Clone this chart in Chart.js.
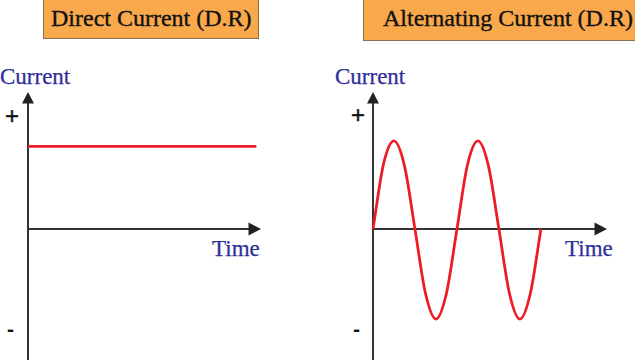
<!DOCTYPE html>
<html>
<head>
<meta charset="utf-8">
<script src="https://cdn.jsdelivr.net/npm/chart.js@4"></script>
<style>
  html, body { margin:0; padding:0; background:#ffffff; }
  #wrap { position:relative; width:635px; height:360px; overflow:hidden; background:#fff; }
  canvas { position:absolute; top:0; }
  .t { position:absolute; white-space:nowrap; line-height:1; font-family:"Liberation Serif", serif; }
  .box { position:absolute; background:#f9a94b; border:1px solid #86704f; box-sizing:border-box; }
  .title { font-size:24px; color:#111; -webkit-text-stroke:0.35px #111; }
  .lab { font-size:23px; color:#2e2e9a; -webkit-text-stroke:0.25px #2e2e9a; }
  .plus { font-family:"Liberation Sans", sans-serif; font-size:24px; color:#111; -webkit-text-stroke:0.4px #111; }
  .minus { font-family:"Liberation Sans", sans-serif; font-weight:bold; font-size:21px; color:#111; }
</style>
</head>
<body>
<div id="wrap">
  <div class="box" style="left:43px; top:-1px; width:216px; height:40px;"></div>
  <div class="t title" style="left:51px; top:6px;">Direct Current (D.R)</div>
  <div class="box" style="left:363px; top:-1px; width:280px; height:42px;"></div>
  <div class="t title" style="left:383px; top:6px;">Alternating Current (D.R)</div>

  <div class="t lab" style="left:0px; top:65px;">Current</div>
  <div class="t lab" style="left:335px; top:65px;">Current</div>
  <div class="t lab" style="left:212px; top:237px;">Time</div>
  <div class="t lab" style="left:565px; top:237px;">Time</div>

  <div class="t plus" style="left:5px; top:104px;">+</div>
  <div class="t plus" style="left:351px; top:103px;">+</div>
  <div class="t minus" style="left:7px; top:318px;">-</div>
  <div class="t minus" style="left:353px; top:318px;">-</div>

  <canvas id="left" width="318" height="360" style="left:0px;"></canvas>
  <canvas id="right" width="317" height="360" style="left:318px;"></canvas>
</div>
<script>
// ---- data ----
const dcTime = [0, 10.93];
const dcCurrent = [0.93, 0.93];

const acTime = [0, 0.5, 1, 1.5, 2, 2.5, 3, 3.5, 4, 4.5, 5, 5.5, 6, 6.5, 7, 7.5, 8];
const acCurrent = [0, 0.73, 0.99, 0.71, 0, -0.72, -1.01, -0.72, 0, 0.72, 0.99, 0.71, 0, -0.72, -1.01, -0.72, 0];

const xRange = [0, 11.15];
const yRange = [-1.47, 1.54];

const axisArrows = {
  id: 'axisArrows',
  beforeDatasetsDraw(chart) {
    const { ctx, chartArea: a, scales: { x, y } } = chart;
    const x0 = x.getPixelForValue(0), y0 = y.getPixelForValue(0);
    ctx.save();
    ctx.strokeStyle = '#333333';
    ctx.fillStyle = '#222222';
    ctx.lineWidth = 2;
    ctx.beginPath(); ctx.moveTo(x0, a.bottom + 5); ctx.lineTo(x0, a.top + 8); ctx.stroke();
    ctx.beginPath(); ctx.moveTo(x0, a.top); ctx.lineTo(x0 - 6, a.top + 11.5); ctx.lineTo(x0 + 6, a.top + 11.5); ctx.closePath(); ctx.fill();
    ctx.beginPath(); ctx.moveTo(x0 - 1, y0); ctx.lineTo(a.right - 8, y0); ctx.stroke();
    ctx.beginPath(); ctx.moveTo(a.right, y0); ctx.lineTo(a.right - 12.5, y0 - 6.5); ctx.lineTo(a.right - 12.5, y0 + 6.5); ctx.closePath(); ctx.fill();
    ctx.restore();
  }
};

function makeChart(id, times, values, padLeft, padRight) {
  return new Chart(document.getElementById(id), {
    type: 'line',
    data: {
      datasets: [{
        data: times.map((t, i) => ({ x: t, y: values[i] })),
        borderColor: '#ee1c24',
        borderWidth: 2.8,
        pointRadius: 0,
        fill: false,
        cubicInterpolationMode: 'monotone',
        clip: false
      }]
    },
    options: {
      responsive: false,
      animation: false,
      devicePixelRatio: 1,
      layout: { padding: { left: padLeft, right: padRight, top: 92, bottom: 0 } },
      plugins: { legend: { display: false }, tooltip: { enabled: false }, title: { display: false } },
      scales: {
        x: { type: 'linear', min: xRange[0], max: xRange[1], display: false },
        y: { type: 'linear', min: yRange[0], max: yRange[1], display: false }
      }
    },
    plugins: [axisArrows]
  });
}

makeChart('left', dcTime, dcCurrent, 28, 57);
makeChart('right', acTime, acCurrent, 55, 28);
</script>
</body>
</html>
